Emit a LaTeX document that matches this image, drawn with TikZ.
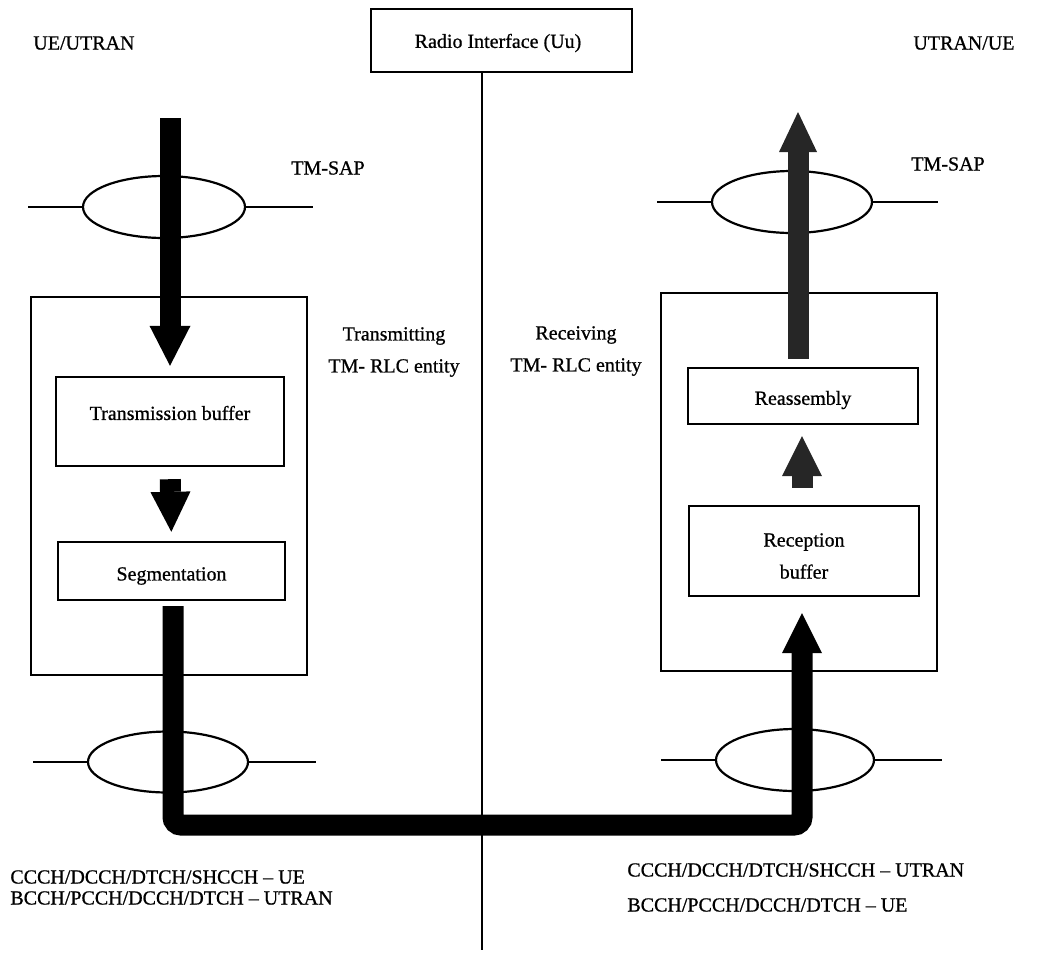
\documentclass[tikz,border=0pt]{standalone}
\usepackage{fontspec}
\setmainfont{Liberation Serif}[FakeBold=0.8]
\usetikzlibrary{arrows.meta,shapes.geometric}
\tikzset{
  box/.style={draw, line width=1.2pt, inner sep=0pt},
  txt/.style={font=\fontsize{10}{12}\selectfont, inner sep=0pt},
  sap/.style={draw, ellipse, line width=1.1pt, inner sep=0pt},
  thinline/.style={line width=1.1pt},
  flow/.style={line width=10.5pt, -{Triangle[length=20pt,width=20.5pt,line width=0pt]}},
  grayflow/.style={flow, draw=black!85},
}
\begin{document}
\begin{tikzpicture}[x=0.5pt,y=-0.5pt]
\useasboundingbox (0,0) rectangle (1049,954);

% top
\node[box, minimum width=130.5pt, minimum height=31.5pt] (radio) at (501.5,40.5) {};
\node[txt] (radiol) at (498,43) {Radio Interface (Uu)};
\coordinate (vb) at (482,950);
\draw[thinline] (radio.south -| vb) -- (vb);
\node[txt, anchor=west] (ueutran) at (33,43) {UE/UTRAN};
\node[txt, anchor=west] (utranue) at (913,43) {UTRAN/UE};

% SAP ellipses
\node[sap, minimum width=81pt, minimum height=31pt] (e1) at (164,207) {};
\node[sap, minimum width=80pt, minimum height=30.5pt] (e2) at (168,762) {};
\node[sap, minimum width=80pt, minimum height=31pt] (e3) at (792,202) {};
\node[sap, minimum width=79pt, minimum height=31pt] (e4) at (795,760) {};
\draw[thinline] (e1.west) -- ++(-54,0);
\draw[thinline] (e1.east) -- ++(67,0);
\draw[thinline] (e2.west) -- ++(-54,0);
\draw[thinline] (e2.east) -- ++(67,0);
\draw[thinline] (e3.west) -- ++(-54,0);
\draw[thinline] (e3.east) -- ++(65,0);
\draw[thinline] (e4.west) -- ++(-54,0);
\draw[thinline] (e4.east) -- ++(67,0);
\node[txt] (sapl) at (328,168) {TM-SAP};
\node[txt] (sapr) at (948,164) {TM-SAP};

% entity boxes
\node[box, minimum width=138pt, minimum height=189pt] (tx) at (169,486) {};
\node[box, minimum width=138pt, minimum height=189pt] (rx) at (799,482) {};
\node[txt, align=center, font=\fontsize{10}{16}\selectfont] (txl) at (394,352) {Transmitting\\TM- RLC entity};
\node[txt, align=center, font=\fontsize{10}{16}\selectfont] (rxl) at (576,351) {Receiving\\TM- RLC entity};

% inner boxes
\node[box, minimum width=114pt, minimum height=44.5pt] (tb) at (170,421.5) {};
\node[txt] (tbl) at (170,413) {Transmission buffer};
\node[box, minimum width=113.5pt, minimum height=29pt] (seg) at (171.5,571) {};
\node[txt] (segl) at (171.5,576) {Segmentation};
\node[box, minimum width=115pt, minimum height=28pt] (ra) at (803,396) {};
\node[txt] (ral) at (803,400) {Reassembly};
\node[box, minimum width=115pt, minimum height=45pt] (rb) at (804,551) {};
\node[txt, align=center, font=\fontsize{10}{16}\selectfont] (rbl) at (804,556) {Reception\\buffer};

% flows
\coordinate (a1s) at (170,118);
\draw[flow, shorten >=5pt] (a1s) -- (tb);
\draw[flow, -{Triangle[length=20pt,width=20pt,line width=0pt]}, shorten <=6pt, shorten >=4.5pt] (tb.south) -- (seg.north);
\coordinate (ubot) at (173,825);
\coordinate (ucol) at (802,825);
\draw[flow, -{Triangle[length=20pt,width=20pt,line width=0pt]}, rounded corners=4pt, shorten <=2.5pt, shorten >=8pt]
  (seg.south -| ubot) -- (ubot) -- (ucol) -- (ucol |- rb.south);
\draw[grayflow, -{Triangle[length=20pt,width=20pt,line width=0pt]}, shorten <=8.5pt, shorten >=5.5pt] (rb.north -| ucol) -- (ra.south -| ucol);
\coordinate (a5e) at (798,112);
\draw[grayflow, -{Triangle[length=20pt,width=19pt,line width=0pt]}, shorten <=4pt] (ra.north -| a5e) -- (a5e);

% channel lists
\node[txt, anchor=west, align=left, font=\fontsize{10}{10.5}\selectfont] (chl) at (10,887.5)
  {CCCH/DCCH/DTCH/SHCCH -- UE\\BCCH/PCCH/DCCH/DTCH -- UTRAN};
\node[txt, anchor=west, align=left, font=\fontsize{10}{17.5}\selectfont] (chr) at (627,887.5)
  {CCCH/DCCH/DTCH/SHCCH -- UTRAN\\BCCH/PCCH/DCCH/DTCH -- UE};
\end{tikzpicture}
\end{document}
